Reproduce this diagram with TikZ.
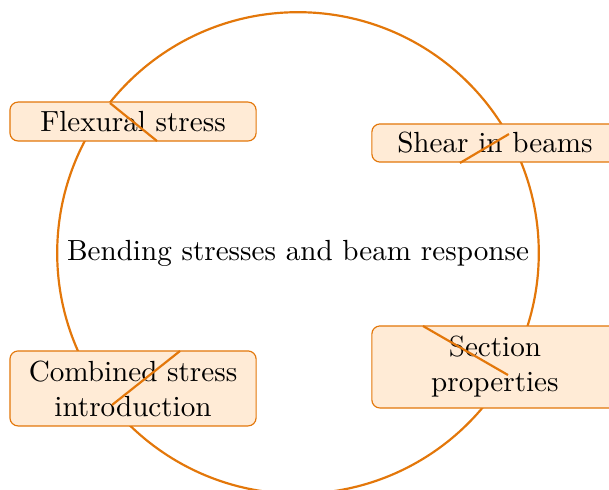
\documentclass[tikz,border=0pt]{standalone}
\usetikzlibrary{positioning}
\definecolor{hub}{RGB}{227,119,10}
\definecolor{hubfill}{RGB}{255,235,214}
\tikzset{
  topic/.style={draw=hub, fill=hubfill, line width=0.4pt, rounded corners=2.8pt,
    minimum width=2.97cm, text width=2.6cm, align=center, inner sep=2pt},
  link/.style={draw=hub, line width=0.75pt}
}
\begin{document}
\begin{tikzpicture}
			\useasboundingbox (-3.595,-2.859) rectangle (3.752,3.052);
			\draw[link] (0,0) circle (2.905cm);
			\node (hub) at (0,0) {Bending stresses and beam response};
			
			\node[topic, minimum height=0.47cm] (flex) at (-1.99,1.586) {Flexural stress};
			\node[topic, minimum height=0.46cm] (shear) at (2.376,1.327) {Shear in beams};
			\node[topic, minimum height=0.905cm] (comb) at (-1.99,-1.634) {Combined stress\\introduction};
			\node[topic, minimum height=0.99cm] (sect) at (2.376,-1.375) {Section\\properties};
			
			% short strokes across the boxes
			\coordinate (f1) at (-2.268,1.809);
			\coordinate (f2) at (-1.701,1.351);
			\coordinate (s1) at (1.954,1.086);
			\coordinate (s2) at (2.545,1.435);
			\coordinate (c1) at (-2.244,-1.834);
			\coordinate (c2) at (-1.423,-1.182);
			\coordinate (p1) at (1.508,-0.881);
			\coordinate (p2) at (2.533,-1.472);
			\foreach \a/\b in {f1/f2, s1/s2, c1/c2, p1/p2} {
				\draw[link] (\a) -- (\b);
			}
\end{tikzpicture}
\end{document}
